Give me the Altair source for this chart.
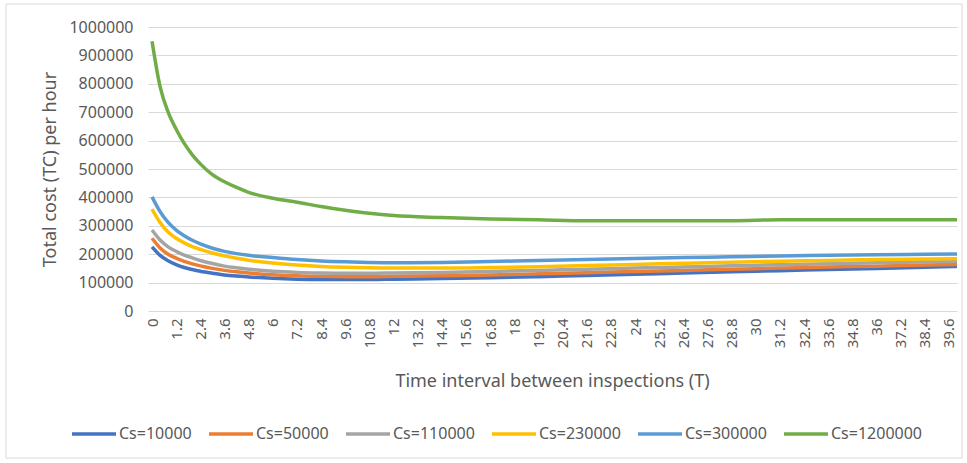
import altair as alt
import pandas as pd

# Time interval T (x values)
T = [0, 0.4, 0.8, 1.2, 1.6, 2.0, 2.4, 3.0, 3.6, 4.2, 4.8, 6.0, 7.2, 8.4, 9.6,
     10.8, 12, 14.4, 16.8, 19.2, 21.6, 24, 26.4, 28.8, 31.2, 33.6, 36, 38.4, 40.0]

cs_10000 = [226000, 196000, 177000, 163000, 153000, 146000, 140000, 133000, 127000, 123000,
            120000, 115000, 112000, 111000, 111000, 111000, 112000, 114000, 117000, 121000,
            125000, 129000, 134000, 138000, 142000, 146000, 150000, 154000, 157000]
cs_50000 = [256000, 222000, 200000, 186000, 175000, 166000, 159000, 150000, 143000, 138000,
            134000, 128000, 124000, 122000, 121000, 121000, 122000, 124000, 127000, 131000,
            135000, 139000, 143000, 147000, 151000, 155000, 158000, 162000, 164000]
cs_110000 = [285000, 250000, 226000, 210000, 197000, 187000, 178000, 167000, 158000, 152000,
             147000, 140000, 136000, 134000, 133000, 133000, 134000, 136000, 139000, 143000,
             147000, 151000, 155000, 159000, 163000, 166000, 170000, 173000, 175000]
cs_230000 = [359000, 312000, 278000, 256000, 240000, 227000, 217000, 204000, 194000, 186000,
             179000, 169000, 162000, 157000, 154000, 152000, 151000, 151000, 153000, 156000,
             160000, 164000, 168000, 172000, 175000, 178000, 181000, 183000, 184000]
cs_300000 = [402000, 350000, 312000, 285000, 265000, 249000, 236000, 221000, 210000, 202000,
             196000, 188000, 181000, 176000, 173000, 171000, 170000, 171000, 174000, 178000,
             181000, 185000, 188000, 191000, 194000, 196000, 198000, 200000, 201000]
cs_1200000 = [950000, 790000, 700000, 640000, 590000, 550000, 518000, 480000, 455000, 435000,
              418000, 397000, 383000, 368000, 355000, 344000, 336000, 329000, 324000, 321000,
              318000, 318000, 318000, 318000, 321000, 321000, 321000, 321000, 321000]

series_names = ["Cs=10000", "Cs=50000", "Cs=110000", "Cs=230000", "Cs=300000", "Cs=1200000"]
series_values = [cs_10000, cs_50000, cs_110000, cs_230000, cs_300000, cs_1200000]
series_colors = ["#4472C4", "#ED7D31", "#A5A5A5", "#FFC000", "#5B9BD5", "#70AD47"]

x_ticks = [round(i * 1.2, 1) for i in range(34)]
y_ticks = [i * 100000 for i in range(11)]

rows = []
for k, (name, vals) in enumerate(zip(series_names, series_values)):
    for t, v in zip(T, vals):
        rows.append({"T": t, "TC": v, "series": name, "k": k})
df = pd.DataFrame(rows)

TXT = "#595959"
GRID = "#D9D9D9"

lines = alt.Chart(df).mark_line(strokeWidth=3.5, interpolate="monotone").encode(
    x=alt.X("T:Q",
            scale=alt.Scale(domain=[-0.2, 40.0], nice=False, zero=False),
            axis=alt.Axis(values=x_ticks, labelAngle=270, labelAlign="right",
                          labelBaseline="middle", labelPadding=7, labelFontSize=15,
                          labelColor=TXT, labelOverlap=False, labelFlush=False,
                          labelExpr="format(datum.value, '.1~f')",
                          ticks=False, tickSize=0, domain=False, grid=False,
                          title="Time interval between  inspections (T)",
                          titleFontSize=18, titleFontWeight="normal", titleColor=TXT,
                          titleX=404, titleY=70, titleAlign="center",
                          titleBaseline="middle")),
    y=alt.Y("TC:Q",
            scale=alt.Scale(domain=[0, 1000000], nice=False),
            axis=alt.Axis(values=y_ticks, format="d", labelFontSize=16, labelColor=TXT,
                          labelPadding=15, ticks=False, tickSize=0, domain=False,
                          grid=True, gridColor=GRID, gridWidth=1,
                          title="Total cost (TC) per hour", titleFontSize=18,
                          titleFontWeight="normal", titleColor=TXT, titleAngle=270,
                          titleX=-98, titleY=142, titleAlign="center",
                          titleBaseline="middle")),
    color=alt.Color("series:N",
                    scale=alt.Scale(domain=series_names, range=series_colors),
                    legend=alt.Legend(orient="none", legendX=-78, legendY=383,
                                      direction="horizontal", columns=6, title=None,
                                      symbolType="stroke", symbolSize=1936,
                                      symbolStrokeWidth=3.5, labelFontSize=16,
                                      labelColor=TXT, labelOffset=1, columnPadding=10)),
    order=alt.Order("k:Q"),
)

border = alt.Chart(pd.DataFrame({"a": [0]})).mark_rect(
    fill=None, stroke=GRID, strokeWidth=1
).encode(
    x=alt.value(-142), x2=alt.value(814), y=alt.value(-23), y2=alt.value(431)
)

chart = alt.layer(border, lines).properties(
    width=809, height=284,
    autosize=alt.AutoSizeParams(type="none"),
    padding={"left": 148, "top": 27, "right": 10, "bottom": 152},
    background="white",
).configure(font="Noto Sans").configure_view(stroke=None)

chart.save("out.html", embed_options={"renderer": "svg", "actions": False})
